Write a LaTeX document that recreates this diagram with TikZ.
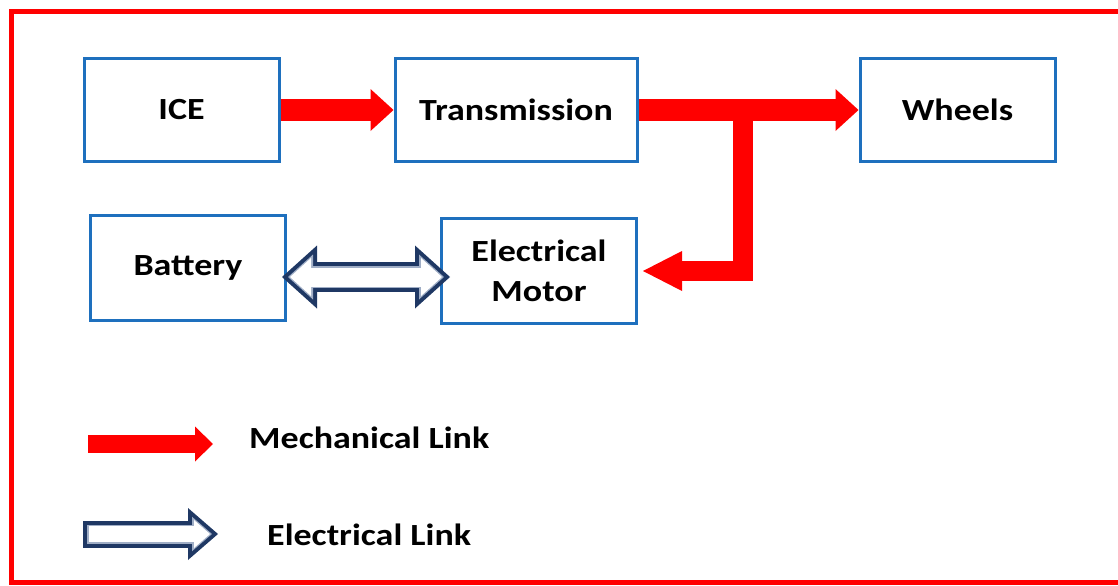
\documentclass[tikz,border=0pt]{standalone}
\usepackage{fontspec}
\setmainfont{Carlito}[FakeStretch=1.17]
\usetikzlibrary{arrows.meta,positioning,calc}
\definecolor{mechred}{RGB}{255,0,0}
\definecolor{boxblue}{RGB}{30,112,190}
\definecolor{elecnavy}{RGB}{31,56,100}
\definecolor{eleclight}{RGB}{160,174,198}

\begin{document}
\begin{tikzpicture}[
  blkbox/.style={rectangle,draw=boxblue,line width=0.06cm,fill=white,
    minimum width=3.9cm,minimum height=2.06cm,align=center,
    font=\bfseries\fontsize{17.5}{23}\selectfont},
  lgdtext/.style={anchor=west,font=\bfseries\fontsize{17.5}{23}\selectfont},
  redframe/.style={draw=mechred,line width=0.1cm},
  % pontas das setas
  mechTip/.tip={Triangle[length=0.46cm,width=0.84cm,line width=0pt]},
  mechLgdTip/.tip={Triangle[length=0.36cm,width=0.7cm,line width=0pt]},
  eTipA/.tip={Triangle[length=0.7cm,width=1.26cm,line width=0pt]},
  eTipB/.tip={Triangle[length=0.5cm,width=0.9cm,line width=0pt]},
  eTipC/.tip={Triangle[length=0.42cm,width=0.76cm,line width=0pt]},
  lTipA/.tip={Triangle[length=0.6cm,width=1.04cm,line width=0pt]},
  lTipB/.tip={Triangle[length=0.4cm,width=0.69cm,line width=0pt]},
  lTipC/.tip={Triangle[length=0.32cm,width=0.56cm,line width=0pt]},
  % estilos das ligações
  mech/.style={draw=mechred,line width=0.44cm,line join=miter,-mechTip},
  eOut/.style={draw=elecnavy},
  eMid/.style={draw=eleclight},
  eIn/.style={draw=white}
]
\useasboundingbox (0,0) rectangle (22.36,-11.72);

% ── Moldura vermelha (aberta à direita) ─────────────────────────────────────
\draw[redframe] (22.36,-0.23) -- (0.23,-0.23) -- (0.23,-11.65) -- (22.36,-11.65);

% ── Blocos ───────────────────────────────────────────────────────────────────
\node[blkbox] (ICE) at (3.63,-2.2) {ICE};
\node[blkbox,minimum width=4.84cm,right=2.26cm of ICE] (Transmission) {Transmission};
\node[blkbox,right=4.4cm of Transmission] (Wheels) {Wheels};
\node[blkbox,minimum height=2.1cm] (Battery) at (3.76,-5.36) {Battery};
\node[blkbox,minimum height=2.1cm,right=3.06cm of Battery,yshift=-0.06cm]
  (Motor) {Electrical\\Motor};

% ── Ligações mecânicas ───────────────────────────────────────────────────────
\draw[mech] (ICE) -- (Transmission);
\draw[mech] (Transmission) -- (Wheels);
\coordinate (split) at ($(Transmission.east)!0.473!(Wheels.west)$);
\draw[mech,line width=0.4cm,
  -{Triangle[length=0.78cm,width=0.8cm,line width=0pt]},shorten >=0.1cm]
  (split) |- (Motor.east);

% ── Ligação elétrica (seta dupla contornada) ─────────────────────────────────
\coordinate (elecA) at ($(Battery.east)+(-0.1,-0.18)$);
\coordinate (elecB) at ($(elecA -| Motor.west)+(0.2,0)$);
\draw[eOut,line width=0.6cm,eTipA-eTipA] (elecA) -- (elecB);
\draw[eMid,line width=0.44cm,eTipB-eTipB,shorten <=0.12cm,shorten >=0.12cm]
  (elecA) -- (elecB);
\draw[eIn,line width=0.38cm,eTipC-eTipC,shorten <=0.16cm,shorten >=0.16cm]
  (elecA) -- (elecB);

% ── Legenda ──────────────────────────────────────────────────────────────────
\coordinate (mechA) at (1.76,-8.88);
\coordinate (mechB) at (4.26,-8.88);
\draw[mech,line width=0.36cm,-mechLgdTip] (mechA) -- (mechB);
\node[lgdtext] (mechLbl) at (4.86,-8.76) {Mechanical Link};

\coordinate (elecC) at (1.66,-10.68);
\coordinate (elecD) at (4.36,-10.68);
\draw[eOut,line width=0.54cm,-lTipA] (elecC) -- (elecD);
\draw[eMid,line width=0.38cm,-lTipB,shorten <=0.08cm,shorten >=0.12cm]
  (elecC) -- (elecD);
\draw[eIn,line width=0.32cm,-lTipC,shorten <=0.11cm,shorten >=0.16cm]
  (elecC) -- (elecD);
\node[lgdtext] (elecLbl) at (5.22,-10.70) {Electrical Link};
\end{tikzpicture}
\end{document}
